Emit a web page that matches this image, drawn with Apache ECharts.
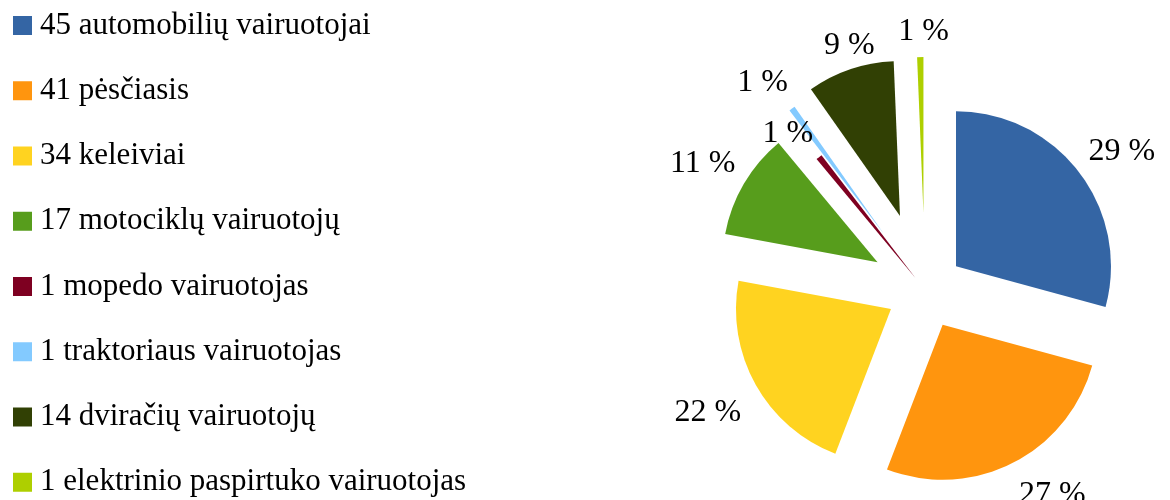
<!DOCTYPE html>
<html>
<head>
<meta charset="utf-8">
<script src="https://cdn.jsdelivr.net/npm/echarts@6/dist/echarts.min.js"></script>
<style>
  html, body { margin: 0; padding: 0; background: #fff; }
  #chart { width: 1170px; height: 500px; }
</style>
</head>
<body>
<div id="chart"></div>
<script>
  const names = [
    '45 automobilių vairuotojai',
    '41 pėsčiasis',
    '34 keleiviai',
    '17 motociklų vairuotojų',
    '1 mopedo vairuotojas',
    '1 traktoriaus vairuotojas',
    '14 dviračių vairuotojų',
    '1 elektrinio paspirtuko vairuotojas'
  ]
  const values = [45, 41, 34, 17, 1, 1, 14, 1]

  // look of the slices (not data)
  const colors = ['#3465a4', '#ff950e', '#ffd320', '#579d1c', '#7e0021', '#83caff', '#314004', '#aecf00']
  const explode = [39, 39, 39, 55, 15, 70, 78, 78]
  const labelDist = [202, 200, 209, 202, 194, 195, 180, 183]
  const labelNudge = [[3, 10], [18, -11], [2, 0], [2, 5], [-5, 9], [-4, 9], [8, 3], [4, 6]]

  const total = values.reduce((a, b) => a + b, 0)
  const R = 155
  const font = '"Liberation Serif", "Times New Roman", serif'
  const hidden = 'rgba(0,0,0,0)'

  // one pie per slice, so each slice can get its own explode distance;
  // ring = a transparent pie whose 'inside' label sits outside the slice
  function sliceSeries(i, ring) {
    return {
      type: 'pie',
      center: [925, 290],
      radius: ring ? [R, 2 * labelDist[i] - R] : [0, R],
      startAngle: 90,
      clockwise: true,
      selectedMode: 'multiple',
      selectedOffset: explode[i],
      avoidLabelOverlap: false,
      labelLayout: function (p) {
        return { dx: labelNudge[p.dataIndex][0], dy: labelNudge[p.dataIndex][1], hideOverlap: false }
      },
      silent: true,
      animation: false,
      labelLine: { show: false },
      data: values.map((v, j) => ({
        name: names[j],
        value: v,
        selected: true,
        itemStyle: { color: (j === i && !ring) ? colors[j] : hidden, borderWidth: 0 },
        label: {
          show: ring && j === i,
          position: 'inside',
          formatter: () => Math.round(v / total * 100) + ' %',
          color: '#000',
          fontFamily: font,
          fontSize: 32
        }
      }))
    }
  }

  const series = []
  for (let i = 0; i < values.length; i++) {
    series.push(sliceSeries(i, false))
    series.push(sliceSeries(i, true))
  }

  const chart = echarts.init(document.getElementById('chart'))
  chart.setOption({
    animation: false,
    legend: {
      orient: 'vertical',
      left: 13,
      top: 10,
      height: 490,
      padding: 0,
      itemWidth: 19,
      itemHeight: 19,
      itemGap: 34.25,
      icon: 'rect',
      selectedMode: false,
      textStyle: {
        color: '#000',
        fontFamily: font,
        fontSize: 31,
        lineHeight: 31,
        padding: [0, 0, 0, 3]
      },
      data: names.map((n, i) => ({ name: n, itemStyle: { color: colors[i] } }))
    },
    series: series
  })
</script>
</body>
</html>
